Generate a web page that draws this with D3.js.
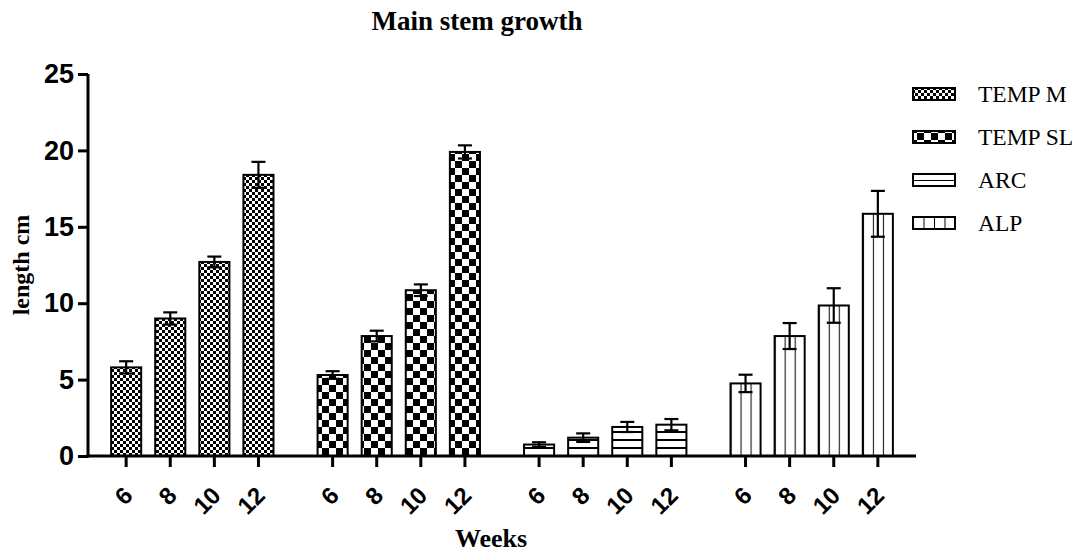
<!DOCTYPE html>
<html>
<head>
<meta charset="utf-8">
<script src="https://cdn.jsdelivr.net/npm/d3@7"></script>
<style>
  html, body { margin: 0; padding: 0; background: #fff; }
  svg { display: block; }
</style>
</head>
<body>
<svg id="chart" width="1083" height="556"></svg>
<script>
// ---- data ----
const groups = ["TEMP M", "TEMP SL", "ARC", "ALP"];
const weeks = ["6", "8", "10", "12"];
const tempM = [5.8, 9.0, 12.7, 18.4];
const tempMErr = [0.4, 0.4, 0.35, 0.85];
const tempSL = [5.3, 7.85, 10.85, 19.9];
const tempSLErr = [0.25, 0.35, 0.38, 0.43];
const arc = [0.75, 1.2, 1.9, 2.05];
const arcErr = [0.15, 0.28, 0.33, 0.37];
const alp = [4.75, 7.85, 9.85, 15.85];
const alpErr = [0.57, 0.85, 1.13, 1.5];
const yTicks = [0, 5, 10, 15, 20, 25];

const seriesValues = [tempM, tempSL, arc, alp];
const seriesErrors = [tempMErr, tempSLErr, arcErr, alpErr];
const patternIds = ["pTempM", "pTempSL", "pArc", "pAlp"];
const legendPatternIds = ["pTempM", "pTempSL", "lArc", "lAlp"];

const svg = d3.select("#chart");
const defs = svg.append("defs");

// fine checker
const p1 = defs.append("pattern").attr("id", "pTempM").attr("patternUnits", "userSpaceOnUse")
  .attr("width", 6).attr("height", 6);
p1.append("rect").attr("width", 6).attr("height", 6).attr("fill", "#fff");
p1.append("rect").attr("x", 0).attr("y", 0).attr("width", 3).attr("height", 3).attr("fill", "#000");
p1.append("rect").attr("x", 3).attr("y", 3).attr("width", 3).attr("height", 3).attr("fill", "#000");

// coarse checker
const p2 = defs.append("pattern").attr("id", "pTempSL").attr("patternUnits", "userSpaceOnUse")
  .attr("width", 14).attr("height", 14);
p2.append("rect").attr("width", 14).attr("height", 14).attr("fill", "#fff");
p2.append("rect").attr("x", 0).attr("y", 0).attr("width", 7).attr("height", 7).attr("fill", "#000");
p2.append("rect").attr("x", 7).attr("y", 7).attr("width", 7).attr("height", 7).attr("fill", "#000");

// horizontal lines (bars)
const p3 = defs.append("pattern").attr("id", "pArc").attr("patternUnits", "userSpaceOnUse")
  .attr("width", 8).attr("height", 8);
p3.append("rect").attr("width", 8).attr("height", 8).attr("fill", "#fff");
p3.append("rect").attr("x", 0).attr("y", -1).attr("width", 8).attr("height", 2).attr("fill", "#000");
p3.append("rect").attr("x", 0).attr("y", 7).attr("width", 8).attr("height", 2).attr("fill", "#000");

// vertical lines at thirds of each bar
const p4 = defs.append("pattern").attr("id", "pAlp").attr("patternUnits", "objectBoundingBox")
  .attr("width", 1 / 3).attr("height", 1);
p4.append("rect").attr("width", 100).attr("height", 1000).attr("fill", "#fff");
p4.append("rect").attr("x", -1).attr("y", 0).attr("width", 2).attr("height", 1000).attr("fill", "#000");

// legend variants
const l3 = defs.append("pattern").attr("id", "lArc").attr("patternUnits", "objectBoundingBox")
  .attr("width", 1).attr("height", 0.5);
l3.append("rect").attr("width", 100).attr("height", 100).attr("fill", "#fff");
l3.append("rect").attr("x", 0).attr("y", -1).attr("width", 100).attr("height", 2).attr("fill", "#000");
const l4 = defs.append("pattern").attr("id", "lAlp").attr("patternUnits", "objectBoundingBox")
  .attr("width", 0.25).attr("height", 1);
l4.append("rect").attr("width", 100).attr("height", 100).attr("fill", "#fff");
l4.append("rect").attr("x", -1).attr("y", 0).attr("width", 2).attr("height", 100).attr("fill", "#000");

// ---- scales ----
const y = d3.scaleLinear().domain([0, 25]).range([456, 74]);
const x0 = d3.scaleBand().domain(groups).range([88, 916]).paddingInner(0.1456).paddingOuter(0.078);
const x1 = d3.scaleBand().domain(weeks).range([0, x0.bandwidth()]).paddingInner(0.318).paddingOuter(0.159);

// ---- bars ----
const rows = [];
groups.forEach((g, gi) => weeks.forEach((w, wi) => {
  rows.push({ g, gi, w, v: seriesValues[gi][wi], e: seriesErrors[gi][wi] });
}));

const barG = svg.append("g");
barG.selectAll("rect.bar").data(rows).join("rect")
  .attr("class", "bar")
  .attr("x", d => x0(d.g) + x1(d.w))
  .attr("y", d => y(d.v))
  .attr("width", x1.bandwidth())
  .attr("height", d => y(0) - y(d.v))
  .attr("fill", d => `url(#${patternIds[d.gi]})`)
  .attr("stroke", "#000").attr("stroke-width", 2);

// error bars
const errG = svg.append("g").attr("stroke", "#000").attr("stroke-width", 2.2);
const cx = d => x0(d.g) + x1(d.w) + x1.bandwidth() / 2;
const capW = 7;
errG.selectAll("line.v").data(rows).join("line")
  .attr("x1", cx).attr("x2", cx)
  .attr("y1", d => y(d.v - d.e)).attr("y2", d => y(d.v + d.e));
errG.selectAll("line.top").data(rows).join("line")
  .attr("x1", d => cx(d) - capW).attr("x2", d => cx(d) + capW)
  .attr("y1", d => y(d.v + d.e)).attr("y2", d => y(d.v + d.e));
errG.selectAll("line.bot").data(rows).join("line")
  .attr("x1", d => cx(d) - capW).attr("x2", d => cx(d) + capW)
  .attr("y1", d => y(d.v - d.e)).attr("y2", d => y(d.v - d.e));

// ---- axes ----
const yAxis = svg.append("g").attr("transform", "translate(88,0)")
  .call(d3.axisLeft(y).tickValues(yTicks).tickSize(10).tickPadding(4));
yAxis.select(".domain").attr("stroke-width", 3).attr("d", `M0,${y(25)}V${y(0) + 1.5}`);
yAxis.selectAll(".tick line").attr("stroke-width", 3);
yAxis.selectAll(".tick text")
  .attr("font-family", "'Liberation Sans', Arial, sans-serif")
  .attr("font-weight", "bold").attr("font-size", 27).attr("fill", "#000");

const xAxisG = svg.append("g").attr("transform", `translate(0,${y(0)})`);
xAxisG.append("line").attr("x1", 86.5).attr("x2", 916).attr("y1", 0).attr("y2", 0)
  .attr("stroke", "#000").attr("stroke-width", 3);
xAxisG.selectAll("line.xt").data(rows).join("line")
  .attr("class", "xt")
  .attr("x1", cx).attr("x2", cx).attr("y1", 0).attr("y2", 11)
  .attr("stroke", "#000").attr("stroke-width", 3);
xAxisG.selectAll("text.xl").data(rows).join("text")
  .attr("class", "xl")
  .attr("transform", d => `translate(${cx(d) + 2},${35}) rotate(-45)`)
  .attr("text-anchor", "end").attr("dy", "0.35em")
  .attr("font-family", "'Liberation Sans', Arial, sans-serif")
  .attr("font-weight", "bold").attr("font-size", 24).attr("fill", "#000")
  .text(d => d.w);

// ---- titles ----
const serif = "'Liberation Serif', 'Times New Roman', serif";
svg.append("text").attr("x", 477).attr("y", 30).attr("text-anchor", "middle")
  .attr("font-family", serif).attr("font-weight", "bold").attr("font-size", 27)
  .text("Main stem growth");
svg.append("text").attr("x", 491).attr("y", 547).attr("text-anchor", "middle")
  .attr("font-family", serif).attr("font-weight", "bold").attr("font-size", 26)
  .text("Weeks");
svg.append("text").attr("transform", "translate(29,265) rotate(-90)").attr("text-anchor", "middle")
  .attr("font-family", serif).attr("font-weight", "bold").attr("font-size", 24)
  .text("length cm");

// ---- legend ----
const legY = d3.scalePoint().domain(groups).range([94, 223]);
const leg = svg.append("g");
leg.selectAll("rect").data(groups).join("rect")
  .attr("x", 913).attr("y", d => legY(d) - 6).attr("width", 42).attr("height", 12)
  .attr("fill", (d, i) => `url(#${legendPatternIds[i]})`)
  .attr("stroke", "#000").attr("stroke-width", 2);
leg.selectAll("text").data(groups).join("text")
  .attr("x", 978).attr("y", d => legY(d)).attr("dy", "0.35em")
  .attr("font-family", serif).attr("font-size", 23.5).attr("fill", "#000")
  .text(d => d);
</script>
</body>
</html>
